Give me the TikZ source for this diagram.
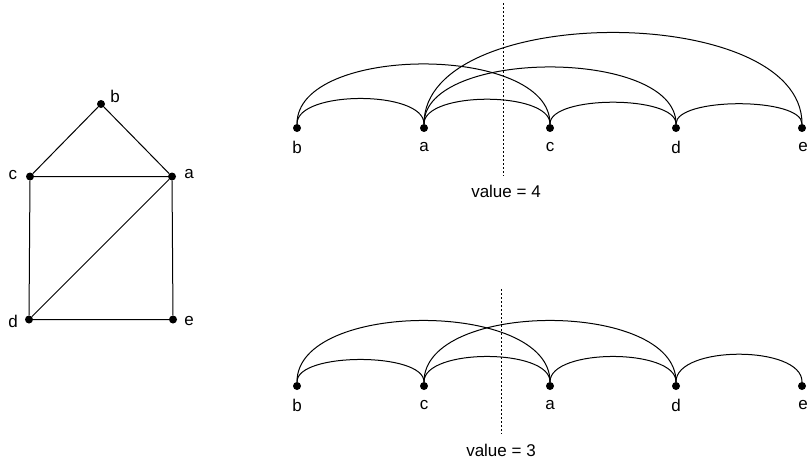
\documentclass[tikz,border=0pt]{standalone}
\usepackage{fontspec}
\setmainfont{Liberation Sans}
\begin{document}
\begin{tikzpicture}[x=1pt,y=-1pt,
  dot/.style={circle,fill=black,inner sep=0pt,minimum size=8pt},
  lbl/.style={font=\fontsize{17}{19}\selectfont,inner sep=0pt},
  edge/.style={line width=1pt},
  cut/.style={line width=1pt,dash pattern=on 2pt off 2pt}]
\useasboundingbox (0,0) rectangle (809,463);

% left graph
\node[dot] (Gb) at (101,104) {};
\node[dot] (Gc) at (30,176.5) {};
\node[dot] (Ga) at (172,176.5) {};
\node[dot] (Gd) at (29,319.5) {};
\node[dot] (Ge) at (173,319.5) {};
\node[lbl] (LGb) at (115,96) {b};
\node[lbl] (LGc) at (13,175) {c};
\node[lbl] (LGa) at (189,174) {a};
\node[lbl] (LGd) at (13,321) {d};
\node[lbl] (LGe) at (189,321) {e};
\draw[edge] (Gb)--(Gc) (Gb)--(Ga) (Gc)--(Ga) (Gc)--(Gd) (Ga)--(Gd) (Ga)--(Ge) (Gd)--(Ge);

% top arrangement: b a c d e
\node[dot] (Tb) at (297,128) {};
\node[dot] (Ta) at (424,128) {};
\node[dot] (Tc) at (550,128) {};
\node[dot] (Td) at (676,128) {};
\node[dot] (Te) at (802,128) {};
\node[lbl] (LTb) at (297,147) {b};
\node[lbl] (LTa) at (424,147) {a};
\node[lbl] (LTc) at (550,147) {c};
\node[lbl] (LTd) at (676,147) {d};
\node[lbl] (LTe) at (803,147) {e};
\draw[edge] (Tb) .. controls +(0,-38) and +(0,-38) .. (Ta);
\draw[edge] (Tb) .. controls +(0,-84) and +(0,-84) .. (Tc);
\draw[edge] (Ta) .. controls +(0,-37) and +(0,-37) .. (Tc);
\draw[edge] (Ta) .. controls +(0,-80) and +(0,-80) .. (Td);
\draw[edge] (Ta) .. controls +(0,-126) and +(0,-126) .. (Te);
\draw[edge] (Tc) .. controls +(0,-33) and +(0,-33) .. (Td);
\draw[edge] (Td) .. controls +(0,-31) and +(0,-31) .. (Te);
\coordinate (cutTtop) at (503,3);
\coordinate (cutTbot) at (503,176);
\draw[cut] (cutTtop) -- (cutTbot);
\node[lbl] (valT) at (506,191) {value = 4};

% bottom arrangement: b c a d e
\node[dot] (Bb) at (297,386) {};
\node[dot] (Bc) at (424,386) {};
\node[dot] (Ba) at (550,386) {};
\node[dot] (Bd) at (676,386) {};
\node[dot] (Be) at (802,386) {};
\node[lbl] (LBb) at (297,405) {b};
\node[lbl] (LBc) at (424,405) {c};
\node[lbl] (LBa) at (550,405) {a};
\node[lbl] (LBd) at (676,405) {d};
\node[lbl] (LBe) at (803,405) {e};
\draw[edge] (Bb) .. controls +(0,-34) and +(0,-34) .. (Bc);
\draw[edge] (Bb) .. controls +(0,-86) and +(0,-86) .. (Ba);
\draw[edge] (Bc) .. controls +(0,-38) and +(0,-38) .. (Ba);
\draw[edge] (Bc) .. controls +(0,-86) and +(0,-86) .. (Bd);
\draw[edge] (Ba) .. controls +(0,-38) and +(0,-38) .. (Bd);
\draw[edge] (Bd) .. controls +(0,-41) and +(0,-41) .. (Be);
\coordinate (cutBtop) at (501,289);
\coordinate (cutBbot) at (501,434);
\draw[cut] (cutBtop) -- (cutBbot);
\node[lbl] (valB) at (501,450) {value = 3};
\end{tikzpicture}
\end{document}
